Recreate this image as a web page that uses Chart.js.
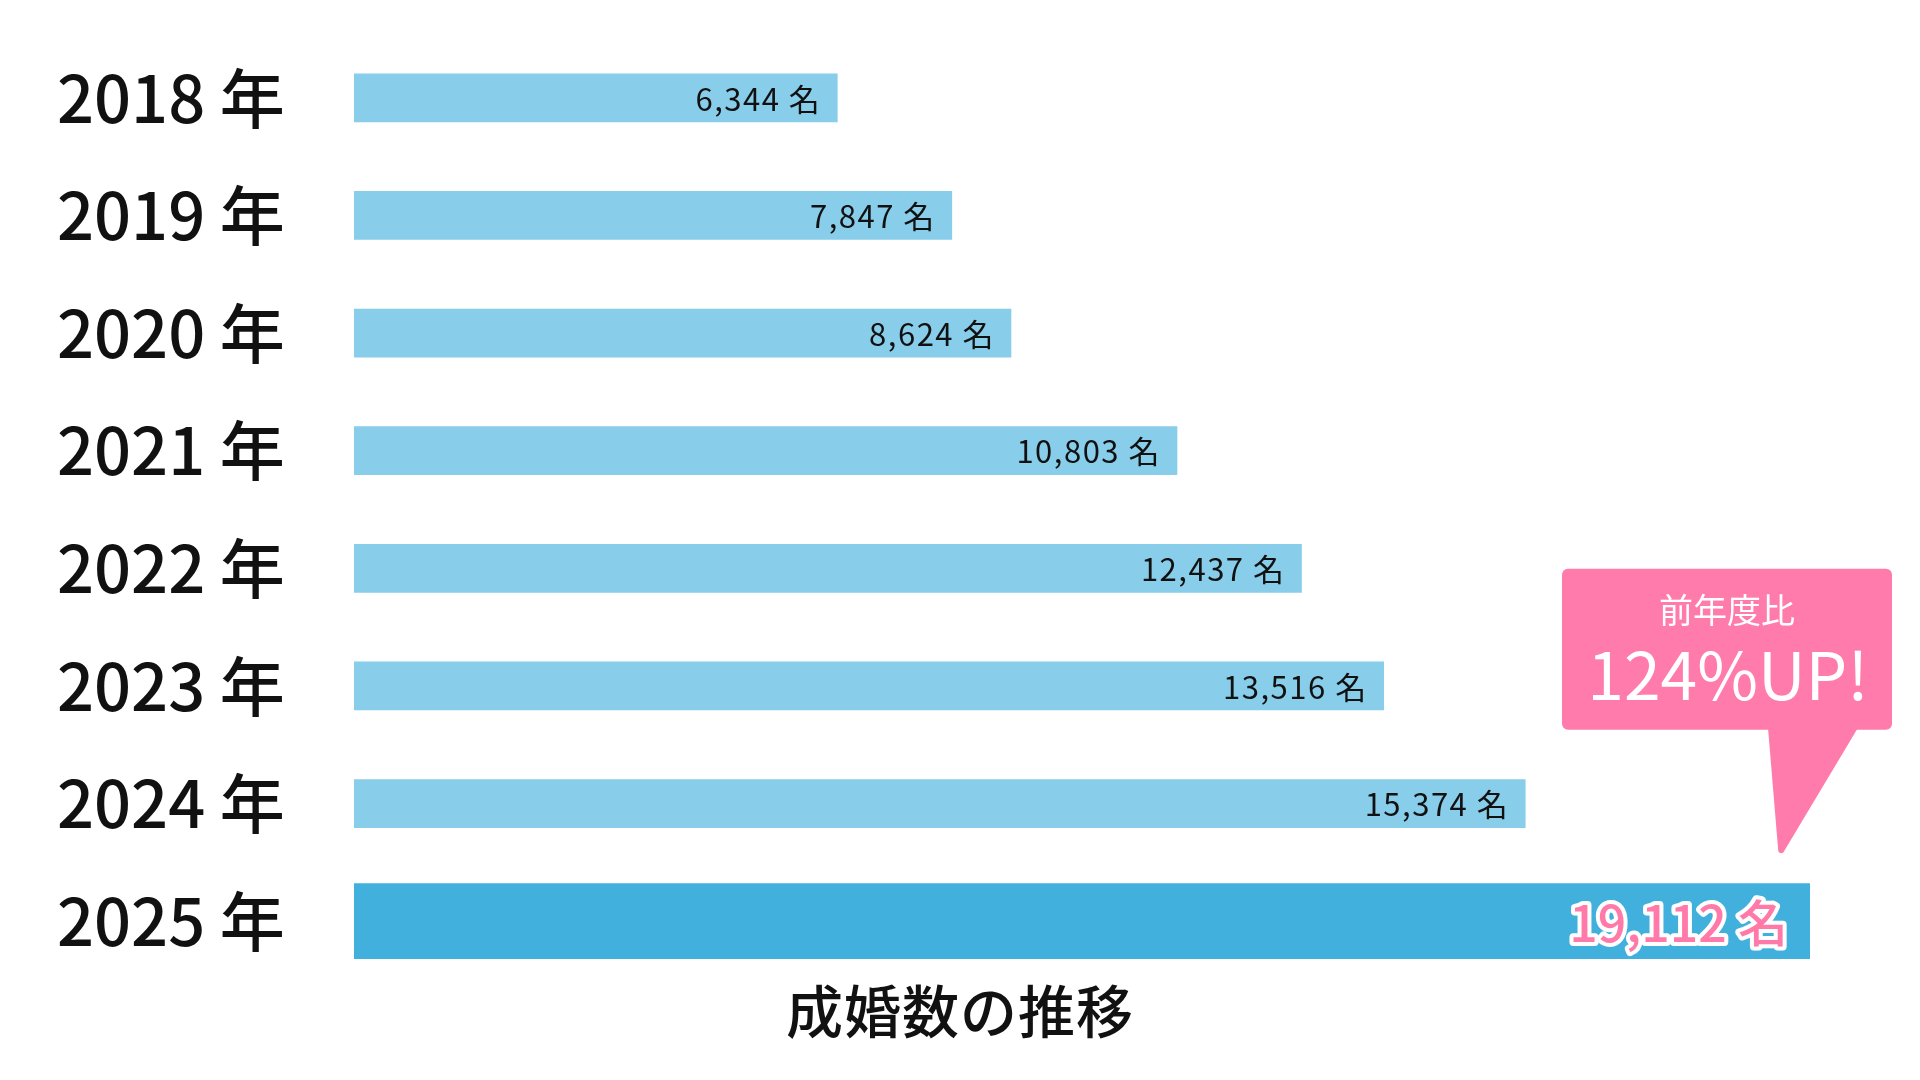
<!DOCTYPE html>
<html lang="ja">
<head>
<meta charset="utf-8">
<title>成婚数の推移</title>
<script src="https://cdn.jsdelivr.net/npm/chart.js@4.4.1/dist/chart.umd.min.js"></script>
<style>
  html, body { margin: 0; padding: 0; background: #fff; }
  #wrap { width: 1920px; height: 1080px; }
</style>
</head>
<body>
<div id="wrap"><canvas id="marriageChart" width="1920" height="1080"></canvas></div>
<script>
// Data
const years = ['2018 年', '2019 年', '2020 年', '2021 年', '2022 年', '2023 年', '2024 年', '2025 年'];
const marriages = [6344, 7847, 8624, 10803, 12437, 13516, 15374, 19112];
const unitLabel = '名';
const chartTitle = '成婚数の推移';
const calloutLines = ['前年度比', '124%UP!'];

const FONT = '"Noto Sans CJK JP", "Noto Sans", sans-serif';
const lastIdx = marriages.length - 1;
const pastValues = marriages.map((v, i) => i < lastIdx ? v : null);
const latestValues = marriages.map((v, i) => i === lastIdx ? v : null);

// Value labels drawn inside the bar ends
const valueLabels = {
    id: 'valueLabels',
    afterDatasetsDraw(chart) {
        const ctx = chart.ctx;
        ctx.save();
        ctx.textAlign = 'right';
        ctx.textBaseline = 'middle';
        chart.data.datasets.forEach((ds, di) => {
            const meta = chart.getDatasetMeta(di);
            meta.data.forEach((bar, i) => {
                if (ds.data[i] == null) return;
                const text = ds.data[i].toLocaleString('en-US') + ' ' + unitLabel;
                if (i === lastIdx) {
                    ctx.letterSpacing = '0px';
                    ctx.font = '500 50px ' + FONT;
                    ctx.lineJoin = 'round';
                    ctx.lineWidth = 8;
                    ctx.strokeStyle = '#ffffff';
                    ctx.strokeText(text, bar.x - 22, bar.y + 2);
                    ctx.fillStyle = '#ff7aa9';
                    ctx.fillText(text, bar.x - 22, bar.y + 2);
                } else {
                    ctx.letterSpacing = '1.5px';
                    ctx.font = '400 31px ' + FONT;
                    ctx.fillStyle = '#111111';
                    ctx.fillText(text, bar.x - 16, bar.y + 1);
                }
            });
        });
        ctx.restore();
    }
};

// Speech bubble above the latest bar
const callout = {
    id: 'callout',
    afterDraw(chart) {
        const bar = chart.getDatasetMeta(1).data[lastIdx];
        if (!bar) return;
        const ctx = chart.ctx;
        const end = bar.x;
        const top = bar.y - bar.height / 2;
        const left = end - 248, right = end + 82;
        const boxTop = top - 315, boxBottom = top - 154;
        const tipX = end - 31, tipY = top - 24;

        ctx.save();
        ctx.fillStyle = '#ff7bab';
        ctx.beginPath();
        ctx.roundRect(left, boxTop, right - left, boxBottom - boxTop, 6);
        ctx.fill();

        ctx.beginPath();
        ctx.moveTo(end - 42, boxBottom - 2);
        ctx.lineTo(end + 48, boxBottom - 2);
        ctx.arcTo(tipX, tipY, end - 42, boxBottom, 3);
        ctx.lineTo(end - 42, boxBottom - 2);
        ctx.closePath();
        ctx.fill();

        const cx = (left + right) / 2;
        ctx.fillStyle = '#ffffff';
        ctx.textAlign = 'center';
        ctx.textBaseline = 'middle';
        ctx.font = '400 34px ' + FONT;
        ctx.fillText(calloutLines[0], cx, boxTop + 41);
        ctx.font = '400 66px ' + FONT;
        ctx.fillText(calloutLines[1], cx + 1, boxTop + 106);
        ctx.restore();
    }
};

// Title centred under the whole canvas
const bottomTitle = {
    id: 'bottomTitle',
    afterDraw(chart) {
        const ctx = chart.ctx;
        ctx.save();
        ctx.font = '500 57px ' + FONT;
        ctx.letterSpacing = '1px';
        ctx.fillStyle = '#111111';
        ctx.textAlign = 'center';
        ctx.textBaseline = 'middle';
        ctx.fillText(chartTitle, chart.width / 2, 1011);
        ctx.restore();
    }
};

const ctx = document.getElementById('marriageChart').getContext('2d');
const marriageChart = new Chart(ctx, {
    type: 'bar',
    data: {
        labels: years,
        datasets: [{
            data: pastValues,
            backgroundColor: '#88cdea',
            barThickness: 48,
            grouped: false
        }, {
            data: latestValues,
            backgroundColor: '#42b0dc',
            barThickness: 75,
            grouped: false
        }]
    },
    options: {
        indexAxis: 'y',
        responsive: false,
        animation: false,
        devicePixelRatio: 1,
        layout: {
            padding: { top: 39, left: 57, right: 110, bottom: 100 }
        },
        scales: {
            x: {
                display: false,
                min: 0,
                max: Math.max(...marriages)
            },
            y: {
                grid: { display: false },
                border: { display: false },
                ticks: {
                    crossAlign: 'far',
                    color: '#111111',
                    padding: 0,
                    font: { family: FONT, size: 65, weight: 500 }
                },
                afterFit(scale) {
                    scale.width = 297;
                }
            }
        },
        plugins: {
            legend: { display: false },
            tooltip: { enabled: false },
            title: { display: false }
        }
    },
    plugins: [valueLabels, callout, bottomTitle]
});
</script>
</body>
</html>
